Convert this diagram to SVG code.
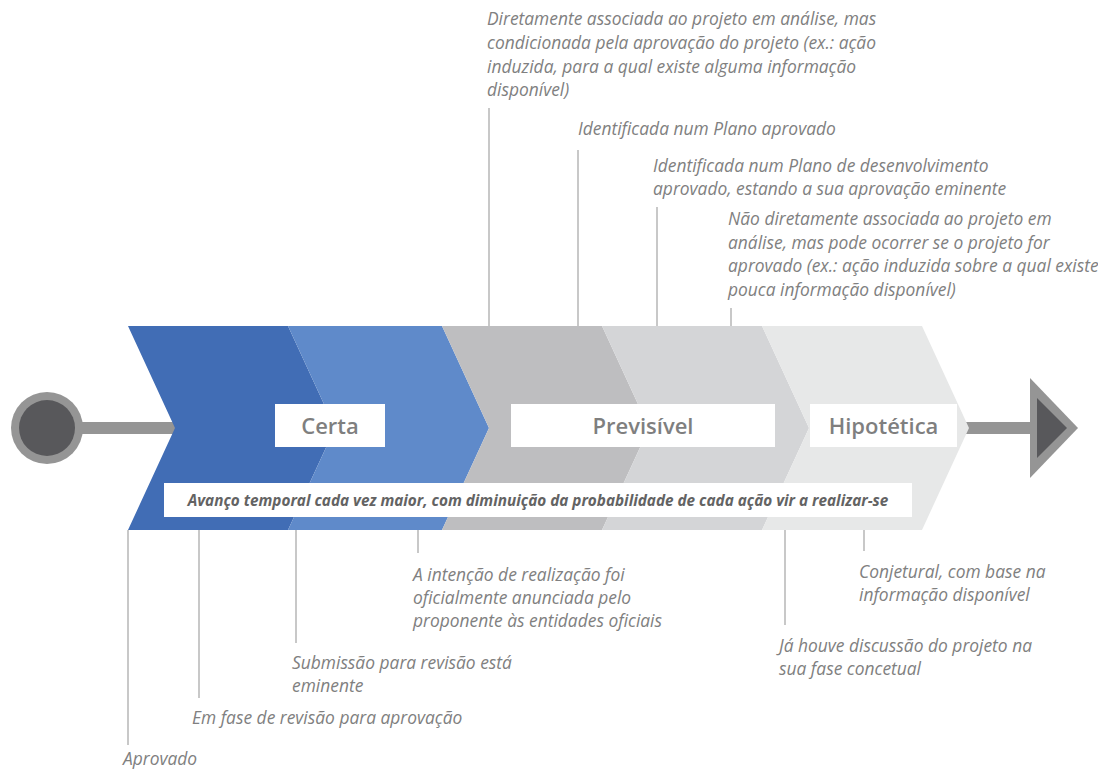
<svg xmlns="http://www.w3.org/2000/svg" width="1098" height="771" viewBox="0 0 1098 771">
<style>
.lbl{font-family:"Open Sans","Liberation Sans",sans-serif;font-style:italic;font-size:17.4px;fill:#808080}
.ttl{font-family:"Open Sans","Liberation Sans",sans-serif;font-weight:600;font-size:22px;fill:#7f7f7f}
.ban{font-family:"Open Sans","Liberation Sans",sans-serif;font-weight:700;font-style:italic;font-size:15.3px;fill:#636363}
.tick{stroke:#a3a3a3;stroke-width:1.2;fill:none}
.box{fill:#ffffff}
</style>
<rect width="1098" height="771" fill="#ffffff"/>
<g id="axis">
<rect x="60" y="422" width="125" height="12" fill="#959595"/>
<rect x="955" y="422" width="80" height="12" fill="#959595"/>
</g>
<g id="start">
<circle cx="47" cy="428" r="36" fill="#959595"/>
<circle cx="47" cy="428" r="28" fill="#58585b"/>
</g>
<g id="end">
<polygon points="1030,378 1078,428 1030,478" fill="#959595"/>
<polygon points="1037,398 1067,428 1037,458" fill="#58585b"/>
</g>
<g id="chevron1"><polygon points="128,326 288,326 335,428 288,530 128,530 175,428" fill="#416db5"/></g>
<g id="chevron2"><polygon points="288,326 442,326 489,428 442,530 288,530 335,428" fill="#5f8aca"/></g>
<g id="chevron3"><polygon points="442,326 602,326 649,428 602,530 442,530 489,428" fill="#bebec0"/></g>
<g id="chevron4"><polygon points="602,326 762,326 809,428 762,530 602,530 649,428" fill="#d4d5d7"/></g>
<g id="chevron5"><polygon points="762,326 922,326 969,428 922,530 762,530 809,428" fill="#e7e8e8"/></g>
<g id="certa"><rect class="box" x="275" y="404" width="110" height="43"/><text class="ttl" x="330" y="433.5" text-anchor="middle">Certa</text></g>
<g id="previsivel"><rect class="box" x="511" y="404" width="264" height="43"/><text class="ttl" x="643" y="433.5" text-anchor="middle">Previsível</text></g>
<g id="hipotetica"><rect class="box" x="810" y="404" width="147" height="43"/><text class="ttl" x="883.5" y="433.5" text-anchor="middle">Hipotética</text></g>
<g id="banner"><rect class="box" x="164" y="483" width="748" height="34"/><text class="ban" x="538" y="505.5" text-anchor="middle">Avanço temporal cada vez maior, com diminuição da probabilidade de cada ação vir a realizar-se</text></g>
<g id="connectors">
<line class="tick" x1="489" y1="108" x2="489" y2="326"/>
<line class="tick" x1="578" y1="150" x2="578" y2="326"/>
<line class="tick" x1="657" y1="207" x2="657" y2="326"/>
<line class="tick" x1="731" y1="308" x2="731" y2="326"/>
<line class="tick" x1="128" y1="530" x2="128" y2="745"/>
<line class="tick" x1="199" y1="530" x2="199" y2="698"/>
<line class="tick" x1="296" y1="530" x2="296" y2="643"/>
<line class="tick" x1="418" y1="530" x2="418" y2="553"/>
<line class="tick" x1="785" y1="530" x2="785" y2="625"/>
<line class="tick" x1="864" y1="530" x2="864" y2="551"/>
</g>
<g id="label-t1"><text class="lbl" x="487" y="25">Diretamente associada ao projeto em análise, mas</text><text class="lbl" x="487" y="49">condicionada pela aprovação do projeto (ex.: ação</text><text class="lbl" x="487" y="73">induzida, para a qual existe alguma informação</text><text class="lbl" x="487" y="96">disponível)</text></g>
<g id="label-t2"><text class="lbl" x="578" y="135">Identificada num Plano aprovado</text></g>
<g id="label-t3"><text class="lbl" x="653" y="172">Identificada num Plano de desenvolvimento</text><text class="lbl" x="653" y="195">aprovado, estando a sua aprovação eminente</text></g>
<g id="label-t4"><text class="lbl" x="728" y="225">Não diretamente associada ao projeto em</text><text class="lbl" x="728" y="249">análise, mas pode ocorrer se o projeto for</text><text class="lbl" x="728" y="272">aprovado (ex.: ação induzida sobre a qual existe</text><text class="lbl" x="728" y="296">pouca informação disponível)</text></g>
<g id="label-b1"><text class="lbl" x="413" y="581">A intenção de realização foi</text><text class="lbl" x="413" y="604">oficialmente anunciada pelo</text><text class="lbl" x="413" y="627">proponente às entidades oficiais</text></g>
<g id="label-b2"><text class="lbl" x="292" y="669">Submissão para revisão está</text><text class="lbl" x="292" y="692">eminente</text></g>
<g id="label-b3"><text class="lbl" x="192" y="724">Em fase de revisão para aprovação</text></g>
<g id="label-b4"><text class="lbl" x="123" y="765">Aprovado</text></g>
<g id="label-b5"><text class="lbl" x="859" y="578">Conjetural, com base na</text><text class="lbl" x="859" y="601">informação disponível</text></g>
<g id="label-b6"><text class="lbl" x="779" y="652">Já houve discussão do projeto na</text><text class="lbl" x="779" y="675">sua fase concetual</text></g>
</svg>
